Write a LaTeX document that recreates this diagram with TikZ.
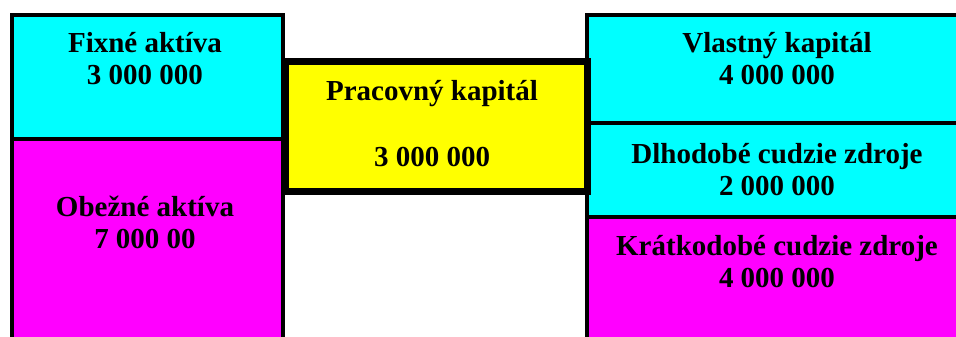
\documentclass[tikz,border=0pt]{standalone}
\usepackage{fontspec}
\setmainfont{Liberation Serif}
\definecolor{boxcyan}{HTML}{00FFFF}
\definecolor{boxmag}{HTML}{FF00FF}
\definecolor{boxyel}{HTML}{FFFF00}
\tikzset{
  colbox/.style={draw=black, line width=4pt, anchor=north west, inner sep=0pt},
  lbl/.style={align=center, font=\fontsize{29}{32}\selectfont\bfseries, inner sep=0pt},
}
\begin{document}
\begin{tikzpicture}[x=1pt,y=-1pt]
\useasboundingbox (0,0) rectangle (956,337);
\clip (0,0) rectangle (956,337);
\fill[white] (0,0) rectangle (956,337);
% left column
\node[colbox, fill=boxcyan, minimum width=271pt, minimum height=124pt] (fix) at (9.5,13) {};
\node[colbox, fill=boxmag, minimum width=271pt, minimum height=240pt] (obez) at (9.5,137) {};
% right column
\node[colbox, fill=boxcyan, minimum width=400pt, minimum height=108pt] (vlast) at (585,13) {};
\node[colbox, fill=boxcyan, minimum width=400pt, minimum height=94pt] (dlho) at (585,121) {};
\node[colbox, fill=boxmag, minimum width=400pt, minimum height=160pt] (krat) at (585,215) {};
% middle
\node[draw=black, line width=7pt, fill=boxyel, anchor=north west, inner sep=0pt,
      minimum width=302pt, minimum height=129pt] (prac) at (281.5,58.5) {};
% labels
\node[lbl] (tfix) at (145,59) {Fixné aktíva\\3 000 000};
\node[lbl] (tobez) at (145,222) {Obežné aktíva\\7 000 00};
\node[lbl] (tprac) at (432,124) {Pracovný kapitál\\[34pt]3 000 000};
\node[lbl] (tvlast) at (777,59) {Vlastný kapitál\\4 000 000};
\node[lbl] (tdlho) at (777,170) {Dlhodobé cudzie zdroje\\2 000 000};
\node[lbl] (tkrat) at (777,262) {Krátkodobé cudzie zdroje\\4 000 000};
\end{tikzpicture}
\end{document}
